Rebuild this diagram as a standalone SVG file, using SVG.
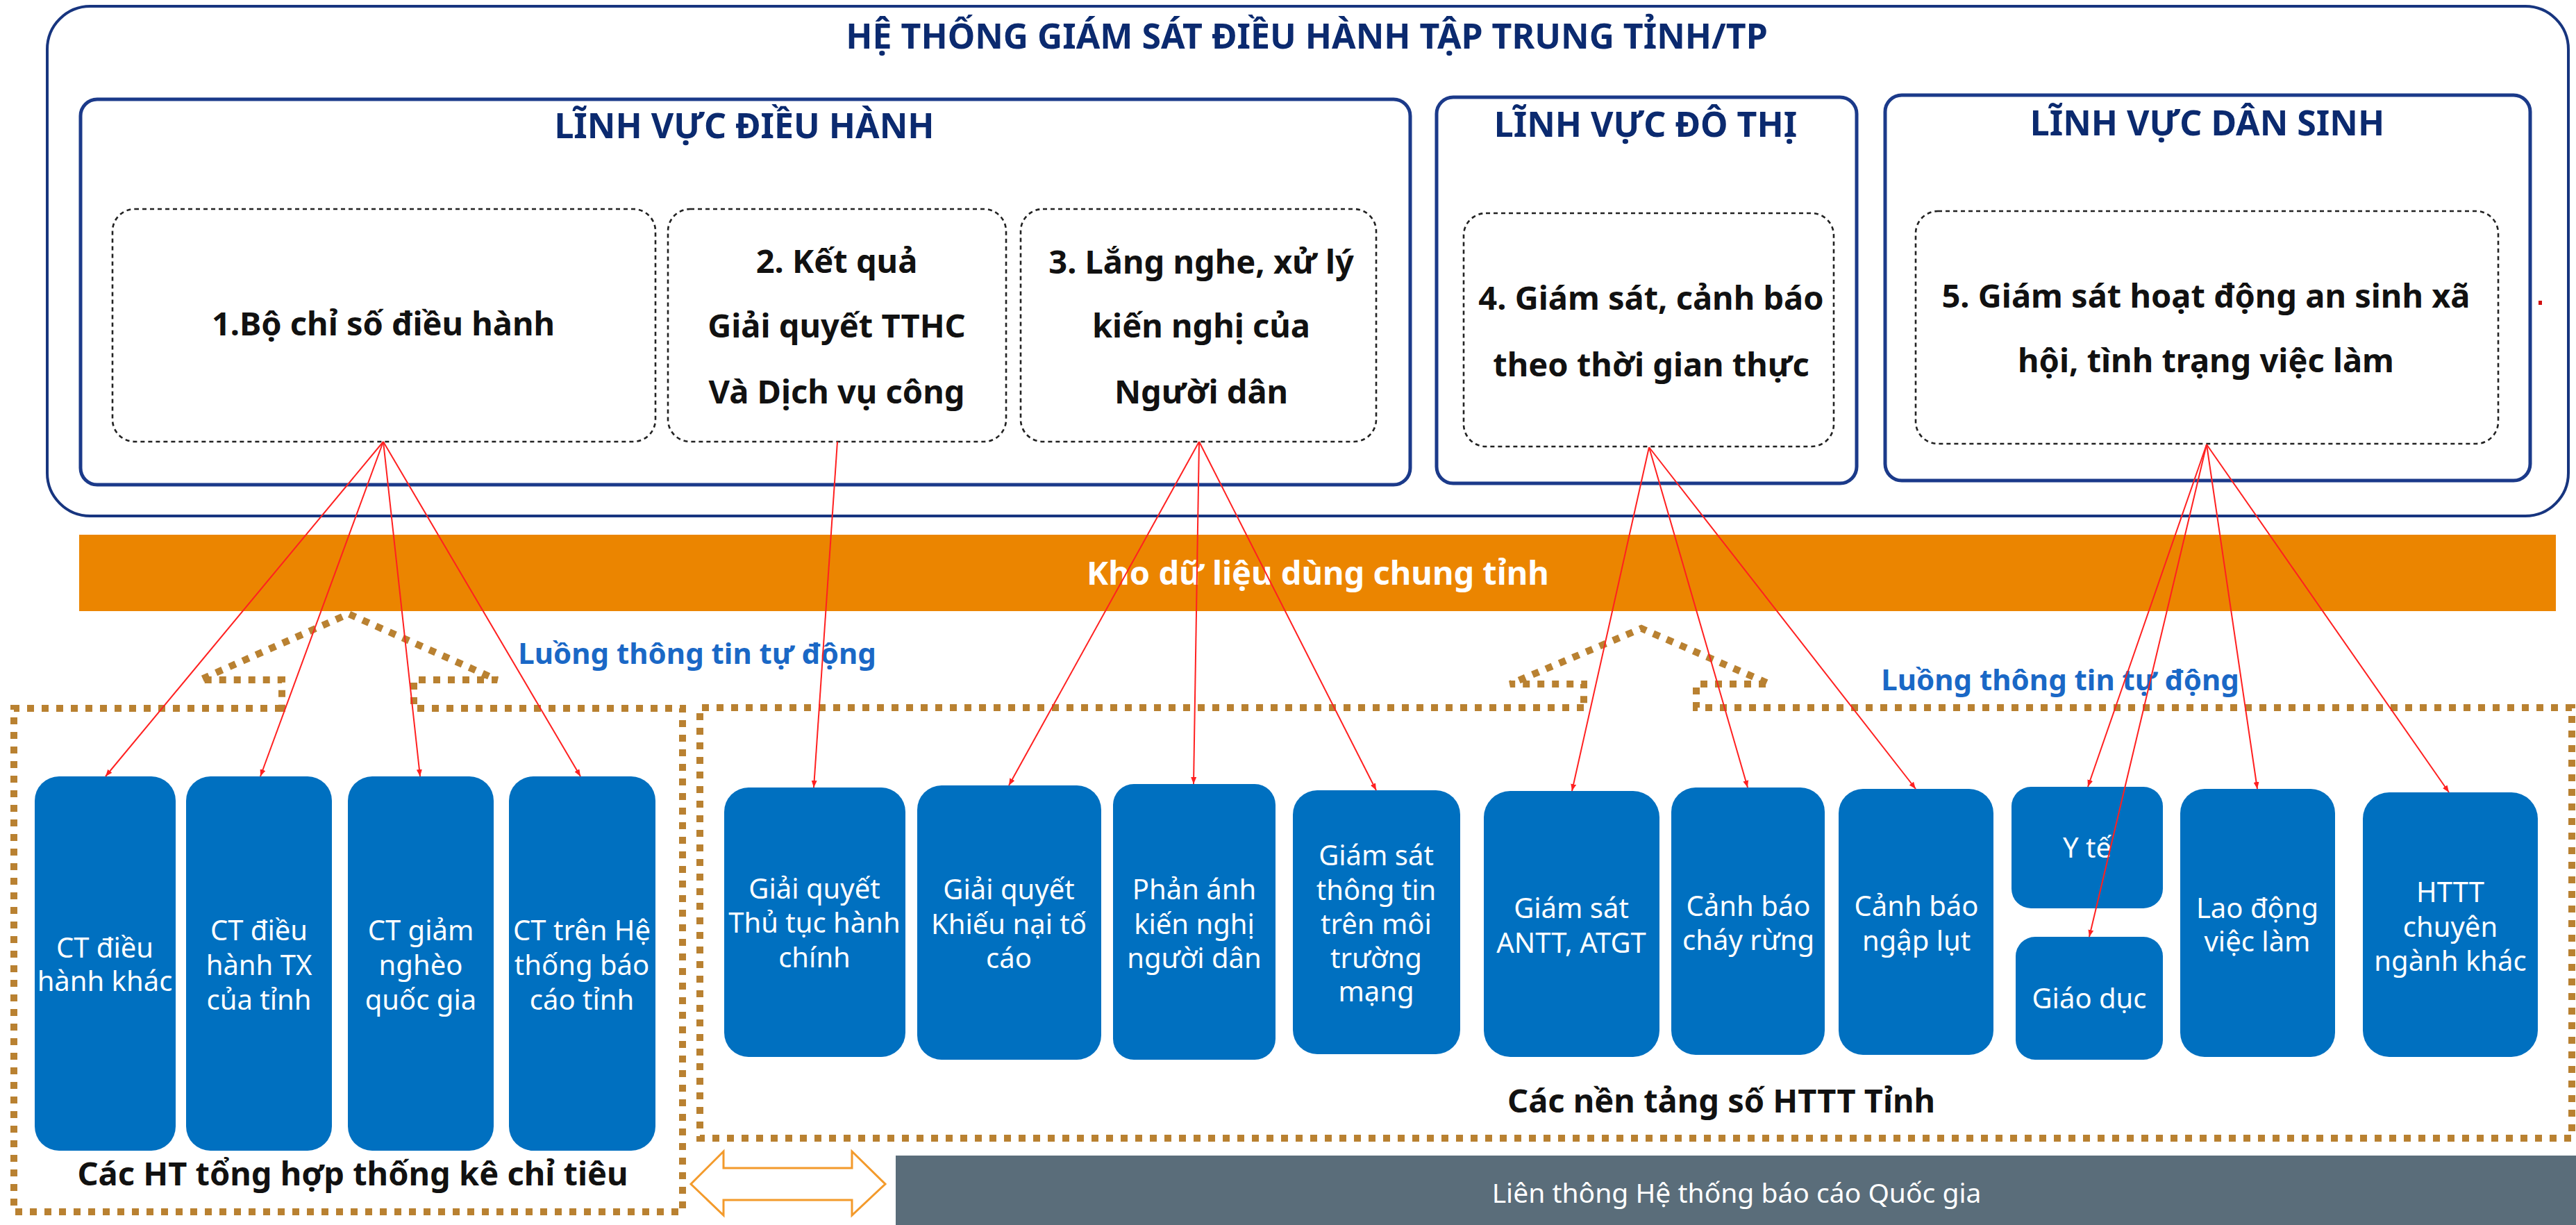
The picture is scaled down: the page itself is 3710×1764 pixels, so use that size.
<svg xmlns="http://www.w3.org/2000/svg" width="3710" height="1764" viewBox="0 0 3710 1764">
<defs>
<style>
.outer{fill:#fff;stroke:#17357F;stroke-width:4}
.panel{fill:#fff;stroke:#1B3A8A;stroke-width:5}
.dash{fill:#fff;stroke:#222;stroke-width:2.6;stroke-dasharray:6 5}
.node{fill:#0070C0}
.ntext{font-family:"Noto Sans","DejaVu Sans",sans-serif;font-size:40px;fill:#fff;text-anchor:middle}
.btext{font-family:"Noto Sans","DejaVu Sans",sans-serif;font-weight:bold;font-size:47px;fill:#111;text-anchor:middle}
.head{font-family:"Noto Sans","DejaVu Sans",sans-serif;font-weight:bold;font-size:50px;fill:#0B2A6F;text-anchor:middle}
.flow{font-family:"Noto Sans","DejaVu Sans",sans-serif;font-weight:bold;font-size:42px;fill:#1A68C6;text-anchor:middle}
.dotted{fill:none;stroke:#B98131;stroke-width:10;stroke-dasharray:10 11}
.conn{stroke:#FF2020;stroke-width:2;fill:none;marker-end:url(#ah)}
</style>
<marker id="ah" markerUnits="userSpaceOnUse" markerWidth="10" markerHeight="8" refX="10" refY="4" orient="auto">
<path d="M0,0 L10,4 L0,8 z" fill="#FF2020"/>
</marker>
</defs>
<rect width="3710" height="1764" fill="#fff"/>

<g id="outer-system">
<rect class="outer" x="68" y="9" width="3631" height="734" rx="62"/>
<text class="head" x="1882" y="70" font-size="51">HỆ THỐNG GIÁM SÁT ĐIỀU HÀNH TẬP TRUNG TỈNH/TP</text>
</g>

<g id="panel-dieu-hanh">
<rect class="panel" x="116" y="143" width="1915" height="555" rx="24"/>
<text class="head" x="1072" y="199">LĨNH VỰC ĐIỀU HÀNH</text>
</g>
<g id="panel-do-thi">
<rect class="panel" x="2069" y="140" width="605" height="556" rx="24"/>
<text class="head" x="2370" y="197">LĨNH VỰC ĐÔ THỊ</text>
</g>
<g id="panel-dan-sinh">
<rect class="panel" x="2715" y="137" width="929" height="555" rx="24"/>
<text class="head" x="3179" y="195">LĨNH VỰC DÂN SINH</text>
</g>

<g id="box1">
<rect class="dash" x="162" y="301" width="782" height="335" rx="32"/>
<text class="btext" x="552" y="483">1.Bộ chỉ số điều hành</text>
</g>
<g id="box2">
<rect class="dash" x="962" y="301" width="487" height="335" rx="32"/>
<text class="btext" x="1205" y="393">2. Kết quả</text>
<text class="btext" x="1205" y="486">Giải quyết TTHC</text>
<text class="btext" x="1205" y="581">Và Dịch vụ công</text>
</g>
<g id="box3">
<rect class="dash" x="1470" y="301" width="512" height="335" rx="32"/>
<text class="btext" x="1730" y="394">3. Lắng nghe, xử lý</text>
<text class="btext" x="1730" y="486">kiến nghị của</text>
<text class="btext" x="1730" y="581">Người dân</text>
</g>
<g id="box4">
<rect class="dash" x="2108" y="307" width="533" height="336" rx="32"/>
<text class="btext" x="2378" y="446">4. Giám sát, cảnh báo</text>
<text class="btext" x="2378" y="542">theo thời gian thực</text>
</g>
<g id="box5">
<rect class="dash" x="2759" y="304" width="839" height="335" rx="32"/>
<text class="btext" x="3177" y="443">5. Giám sát hoạt động an sinh xã</text>
<text class="btext" x="3177" y="536">hội, tình trạng việc làm</text>
</g>
<rect x="3656" y="433" width="5" height="6" fill="#D01010"/>

<g id="kho-du-lieu">
<rect x="114" y="770" width="3567" height="110" fill="#EB8500"/>
<text x="1898" y="842" font-family="Noto Sans, DejaVu Sans, sans-serif" font-weight="bold" font-size="47" fill="#fff" text-anchor="middle">Kho dữ liệu dùng chung tỉnh</text>
</g>

<g id="group-left">
<path class="dotted" d="M406 1020 H20 V1745 H983 V1020 H596 V979 H716 L502 884 L288 979 H406 Z"/>
<text class="flow" x="1004" y="956">Luồng thông tin tự động</text>
<text class="btext" x="508" y="1707">Các HT tổng hợp thống kê chỉ tiêu</text>
</g>
<g id="group-right">
<path class="dotted" d="M2281 1019 H1008 V1639 H3704 V1019 H2443 V985 H2549 L2364 905 L2175 985 H2281 Z"/>
<text class="flow" x="2967" y="994">Luồng thông tin tự động</text>
<text class="btext" x="2479" y="1602">Các nền tảng số HTTT Tỉnh</text>
</g>

<g id="n-ct-dieu-hanh-khac">
<rect class="node" x="50" y="1118" width="203" height="539" rx="35"/>
<text class="ntext" x="151" y="1379">CT điều</text>
<text class="ntext" x="151" y="1427">hành khác</text>
</g>
<g id="n-ct-dieu-hanh-tx">
<rect class="node" x="268" y="1118" width="210" height="539" rx="35"/>
<text class="ntext" x="373" y="1354">CT điều</text>
<text class="ntext" x="373" y="1404">hành TX</text>
<text class="ntext" x="373" y="1454">của tỉnh</text>
</g>
<g id="n-ct-giam-ngheo">
<rect class="node" x="501" y="1118" width="210" height="539" rx="35"/>
<text class="ntext" x="606" y="1354">CT giảm</text>
<text class="ntext" x="606" y="1404">nghèo</text>
<text class="ntext" x="606" y="1454">quốc gia</text>
</g>
<g id="n-ct-bao-cao-tinh">
<rect class="node" x="733" y="1118" width="211" height="539" rx="35"/>
<text class="ntext" x="838" y="1354">CT trên Hệ</text>
<text class="ntext" x="838" y="1404">thống báo</text>
<text class="ntext" x="838" y="1454">cáo tỉnh</text>
</g>

<g id="n-thu-tuc">
<rect class="node" x="1043" y="1134" width="261" height="388" rx="35"/>
<text class="ntext" x="1173" y="1294">Giải quyết</text>
<text class="ntext" x="1173" y="1343">Thủ tục hành</text>
<text class="ntext" x="1173" y="1393">chính</text>
</g>
<g id="n-khieu-nai">
<rect class="node" x="1321" y="1131" width="265" height="395" rx="35"/>
<text class="ntext" x="1453" y="1295">Giải quyết</text>
<text class="ntext" x="1453" y="1345">Khiếu nại tố</text>
<text class="ntext" x="1453" y="1394">cáo</text>
</g>
<g id="n-phan-anh">
<rect class="node" x="1603" y="1129" width="234" height="397" rx="30"/>
<text class="ntext" x="1720" y="1295">Phản ánh</text>
<text class="ntext" x="1720" y="1345">kiến nghị</text>
<text class="ntext" x="1720" y="1394">người dân</text>
</g>
<g id="n-moi-truong-mang">
<rect class="node" x="1862" y="1138" width="241" height="380" rx="35"/>
<text class="ntext" x="1982" y="1246">Giám sát</text>
<text class="ntext" x="1982" y="1296">thông tin</text>
<text class="ntext" x="1982" y="1345">trên môi</text>
<text class="ntext" x="1982" y="1394">trường</text>
<text class="ntext" x="1982" y="1442">mạng</text>
</g>
<g id="n-antt">
<rect class="node" x="2137" y="1139" width="253" height="383" rx="38"/>
<text class="ntext" x="2263" y="1322">Giám sát</text>
<text class="ntext" x="2263" y="1372">ANTT, ATGT</text>
</g>
<g id="n-chay-rung">
<rect class="node" x="2407" y="1134" width="221" height="385" rx="35"/>
<text class="ntext" x="2518" y="1319">Cảnh báo</text>
<text class="ntext" x="2518" y="1368">cháy rừng</text>
</g>
<g id="n-ngap-lut">
<rect class="node" x="2648" y="1136" width="223" height="383" rx="35"/>
<text class="ntext" x="2760" y="1319">Cảnh báo</text>
<text class="ntext" x="2760" y="1369">ngập lụt</text>
</g>
<g id="n-y-te">
<rect class="node" x="2897" y="1133" width="218" height="175" rx="28"/>
<text class="ntext" x="3006" y="1235">Y tế</text>
</g>
<g id="n-giao-duc">
<rect class="node" x="2903" y="1349" width="212" height="177" rx="28"/>
<text class="ntext" x="3009" y="1452">Giáo dục</text>
</g>
<g id="n-lao-dong">
<rect class="node" x="3140" y="1136" width="223" height="386" rx="35"/>
<text class="ntext" x="3251" y="1322">Lao động</text>
<text class="ntext" x="3251" y="1370">việc làm</text>
</g>
<g id="n-httt-khac">
<rect class="node" x="3403" y="1141" width="252" height="381" rx="38"/>
<text class="ntext" x="3529" y="1299">HTTT</text>
<text class="ntext" x="3529" y="1349">chuyên</text>
<text class="ntext" x="3529" y="1398">ngành khác</text>
</g>

<g id="double-arrow">
<polygon points="995,1705 1042,1658 1042,1682 1227,1682 1227,1658 1275,1705 1227,1750 1227,1728 1042,1728 1042,1750" fill="#fff" stroke="#F39A2B" stroke-width="3" stroke-linejoin="miter"/>
</g>

<g id="lien-thong">
<rect x="1290" y="1664" width="2420" height="100" fill="#5A6D7A"/>
<text x="2501" y="1732" font-family="Noto Sans, DejaVu Sans, sans-serif" font-size="39" fill="#fff" text-anchor="middle">Liên thông Hệ thống báo cáo Quốc gia</text>
</g>

<g id="connectors">
<line class="conn" x1="552" y1="636" x2="152" y2="1118"/>
<line class="conn" x1="552" y1="636" x2="375" y2="1118"/>
<line class="conn" x1="552" y1="636" x2="605" y2="1118"/>
<line class="conn" x1="552" y1="636" x2="836" y2="1118"/>
<line class="conn" x1="1206" y1="636" x2="1172" y2="1134"/>
<line class="conn" x1="1727" y1="636" x2="1453" y2="1131"/>
<line class="conn" x1="1727" y1="636" x2="1719" y2="1129"/>
<line class="conn" x1="1727" y1="636" x2="1982" y2="1138"/>
<line class="conn" x1="2375" y1="644" x2="2264" y2="1139"/>
<line class="conn" x1="2375" y1="644" x2="2517" y2="1134"/>
<line class="conn" x1="2375" y1="644" x2="2759" y2="1136"/>
<line class="conn" x1="3178" y1="640" x2="3007" y2="1133"/>
<line class="conn" x1="3178" y1="640" x2="3009" y2="1349"/>
<line class="conn" x1="3178" y1="640" x2="3251" y2="1136"/>
<line class="conn" x1="3178" y1="640" x2="3527" y2="1141"/>
</g>
</svg>
